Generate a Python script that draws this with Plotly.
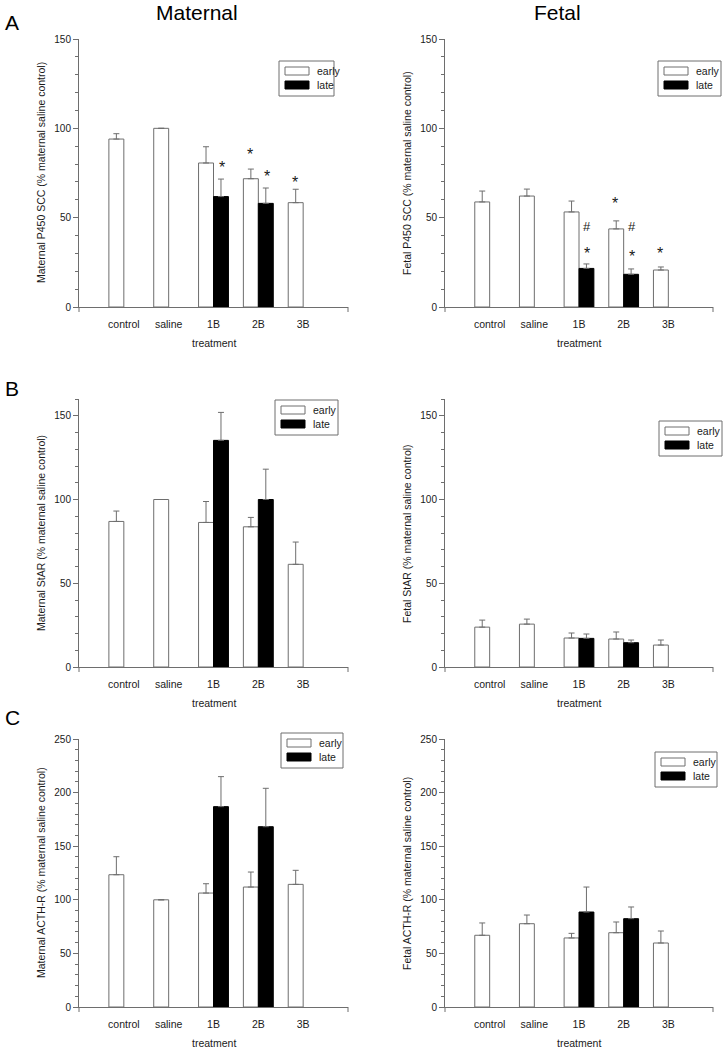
import plotly.graph_objects as go

# ---------------- data ----------------
categories = ["control", "saline", "1B", "2B", "3B"]
late_categories = ["1B", "2B"]

# A: P450 SCC
p450_mat_early = [94.0, 100.0, 80.6, 71.8, 58.4]
p450_mat_early_err = [3.0, 0.0, 9.1, 5.4, 7.5]
p450_mat_late = [61.8, 58.0]
p450_mat_late_err = [9.8, 8.6]

p450_fet_early = [58.8, 62.1, 53.2, 43.7, 20.7]
p450_fet_early_err = [6.1, 3.9, 6.1, 4.5, 1.7]
p450_fet_late = [21.6, 18.3]
p450_fet_late_err = [2.5, 3.0]

# B: StAR
star_mat_early = [86.9, 100.0, 86.3, 83.7, 61.3]
star_mat_early_err = [6.2, 0.0, 12.5, 5.6, 13.3]
star_mat_late = [135.3, 100.0]
star_mat_late_err = [16.7, 18.1]

star_fet_early = [23.8, 25.6, 17.3, 16.7, 13.1]
star_fet_early_err = [4.2, 3.0, 3.0, 4.2, 3.0]
star_fet_late = [17.1, 14.5]
star_fet_late_err = [2.6, 1.6]

# C: ACTH-R
acth_mat_early = [123.4, 100.0, 106.3, 111.9, 114.4]
acth_mat_early_err = [16.8, 0.0, 8.7, 14.0, 13.1]
acth_mat_late = [186.9, 168.2]
acth_mat_late_err = [28.0, 35.8]

acth_fet_early = [66.9, 77.7, 64.4, 69.3, 59.7]
acth_fet_early_err = [11.5, 8.1, 4.3, 10.0, 11.2]
acth_fet_late = [88.6, 82.4]
acth_fet_late_err = [23.3, 10.9]

# significance marks: (category, series, symbol, y value)
p450_mat_marks = [("1B", "late", "*", 80.2), ("2B", "early", "*", 87.5),
                  ("2B", "late", "*", 75.4), ("3B", "early", "*", 72.2)]
p450_fet_marks = [("1B", "late", "#", 45.3), ("1B", "late", "*", 32.3),
                  ("2B", "early", "*", 59.9), ("2B", "late", "#", 45.3),
                  ("2B", "late", "*", 30.4), ("3B", "early", "*", 32.3)]

y_titles = [
    "Maternal P450 SCC (% maternal saline control)",
    "Fetal P450 SCC (% maternal saline control)",
    "Maternal StAR (% maternal saline control)",
    "Fetal StAR (% maternal saline control)",
    "Maternal ACTH-R (% maternal saline control)",
    "Fetal ACTH-R (% maternal saline control)",
]
column_titles = ["Maternal", "Fetal"]
row_letters = ["A", "B", "C"]
series_names = ["early", "late"]
x_title = "treatment"

# ---------------- layout geometry (pixels) ----------------
W, H = 726, 1049
FONT = "Arial, Liberation Sans, sans-serif"
GRAY = "#6e6e6e"
TXT = "#1a1a1a"

col_px = [(79, 348), (445, 713)]
row_px = [(39, 307), (399, 667), (739, 1007)]
yranges = [150, 160, 250]
legend_px = [  # left, top, width
    (279, 61, 55), (658, 61, 63),
    (275, 400, 63), (659, 421, 63),
    (281, 733, 62), (655, 752, 62),
]
ytitle_x = [41, 407]

panels = [
    (p450_mat_early, p450_mat_early_err, p450_mat_late, p450_mat_late_err, p450_mat_marks),
    (p450_fet_early, p450_fet_early_err, p450_fet_late, p450_fet_late_err, p450_fet_marks),
    (star_mat_early, star_mat_early_err, star_mat_late, star_mat_late_err, []),
    (star_fet_early, star_fet_early_err, star_fet_late, star_fet_late_err, []),
    (acth_mat_early, acth_mat_early_err, acth_mat_late, acth_mat_late_err, []),
    (acth_fet_early, acth_fet_early_err, acth_fet_late, acth_fet_late_err, []),
]


def px(x):
    return x / W


def py(y):
    return 1 - y / H


fig = go.Figure()
annotations = []
shapes = []
BW = 1 / 3

for i, (early, early_err, late, late_err, marks) in enumerate(panels):
    r, c = divmod(i, 2)
    sfx = "" if i == 0 else str(i + 1)
    xa, ya = "x" + sfx, "y" + sfx
    x0p, x1p = col_px[c]
    ytop, ybot = row_px[r]

    fig.add_trace(go.Bar(
        x=categories, y=early, name=series_names[0], xaxis=xa, yaxis=ya,
        width=BW, offset=-BW, showlegend=False,
        marker=dict(color="white", line=dict(color=GRAY, width=1)),
        error_y=dict(type="data", symmetric=False, array=early_err,
                     arrayminus=[0] * len(early_err), color=GRAY,
                     thickness=1, width=3),
    ))
    fig.add_trace(go.Bar(
        x=late_categories, y=late, name=series_names[1], xaxis=xa, yaxis=ya,
        width=BW, offset=0, showlegend=False,
        marker=dict(color="black", line=dict(color="black", width=1)),
        error_y=dict(type="data", symmetric=False, array=late_err,
                     arrayminus=[0] * len(late_err), color=GRAY,
                     thickness=1, width=3),
    ))

    fig.layout["xaxis" + sfx] = dict(
        domain=[px(x0p), px(x1p)], anchor=ya, type="category",
        categoryorder="array", categoryarray=categories,
        range=[-1, 5], showline=True, linecolor=GRAY, linewidth=1,
        ticks="outside", ticklen=7, tickcolor="rgba(0,0,0,0)",
        showgrid=False, zeroline=False, automargin=False,
        tickfont=dict(family=FONT, size=10.5, color=TXT),
    )
    fig.layout["yaxis" + sfx] = dict(
        domain=[py(ybot), py(ytop)], anchor=xa, range=[0, yranges[r]],
        tick0=0, dtick=50, showline=True, linecolor=GRAY, linewidth=1,
        ticks="outside", ticklen=5, tickcolor=GRAY,
        minor=dict(ticks="outside", ticklen=3, dtick=10, tick0=0, tickcolor=GRAY),
        showgrid=False, zeroline=False, automargin=False,
        tickfont=dict(family=FONT, size=10, color=TXT),
    )

    # end ticks on x axis
    for xd in (0, 1):
        shapes.append(dict(type="line", xref=xa + " domain", yref=ya + " domain",
                           x0=xd, x1=xd, y0=0, y1=-5 / (ybot - ytop),
                           line=dict(color=GRAY, width=1)))

    # y title
    annotations.append(dict(text=y_titles[i], xref="paper", yref="paper",
                            x=px(ytitle_x[c]), y=py((ytop + ybot) / 2),
                            textangle=-90, showarrow=False,
                            xanchor="center", yanchor="middle",
                            font=dict(family=FONT, size=10.5, color=TXT)))
    # x title
    annotations.append(dict(text=x_title, xref="paper", yref="paper",
                            x=px((x0p + x1p) / 2), y=py(ybot + 36),
                            showarrow=False, xanchor="center", yanchor="middle",
                            font=dict(family=FONT, size=10.5, color=TXT)))

    # significance marks
    for cat, ser, sym, yv in marks:
        xi = categories.index(cat) + (-0.19 if ser == "early" else 0.19)
        annotations.append(dict(text=sym, xref=xa, yref=ya, x=xi, y=yv,
                                showarrow=False, xanchor="center",
                                yanchor="middle",
                                yshift=-4 if sym == "*" else 0,
                                font=dict(family=FONT,
                                          size=16 if sym == "*" else 13,
                                          color=TXT)))

    # legend box
    lx, lt, lw = legend_px[i]
    shapes.append(dict(type="rect", xref="paper", yref="paper",
                       x0=px(lx), x1=px(lx + lw), y0=py(lt + 35), y1=py(lt),
                       line=dict(color=GRAY, width=1), fillcolor="white"))
    for k, (fill, edge) in enumerate([("white", GRAY), ("black", "black")]):
        st = lt + 6 + 14 * k
        shapes.append(dict(type="rect", xref="paper", yref="paper",
                           x0=px(lx + 6), x1=px(lx + 30), y0=py(st + 8), y1=py(st),
                           line=dict(color=edge, width=1), fillcolor=fill))
        annotations.append(dict(text=series_names[k], xref="paper", yref="paper",
                                x=px(lx + 36), y=py(st + 4), showarrow=False,
                                xanchor="left", yanchor="middle",
                                font=dict(family=FONT, size=10.5, color=TXT)))

# column titles and row letters
for c, t in enumerate(column_titles):
    annotations.append(dict(text=t, xref="paper", yref="paper",
                            x=px([197, 557][c]), y=py(13), showarrow=False,
                            xanchor="center", yanchor="middle",
                            font=dict(family=FONT, size=21, color="black")))
for r, t in enumerate(row_letters):
    annotations.append(dict(text=t, xref="paper", yref="paper",
                            x=px(12), y=py([23, 388, 717][r]), showarrow=False,
                            xanchor="center", yanchor="middle",
                            font=dict(family=FONT, size=21, color="black")))

fig.update_layout(
    width=W, height=H, margin=dict(l=0, r=0, t=0, b=0),
    paper_bgcolor="white", plot_bgcolor="white",
    barmode="overlay", showlegend=False,
    annotations=annotations, shapes=shapes,
    font=dict(family=FONT, color=TXT),
)

fig.write_html("out.html", config={"displayModeBar": False},
               post_script="document.body.style.margin='0px';")
